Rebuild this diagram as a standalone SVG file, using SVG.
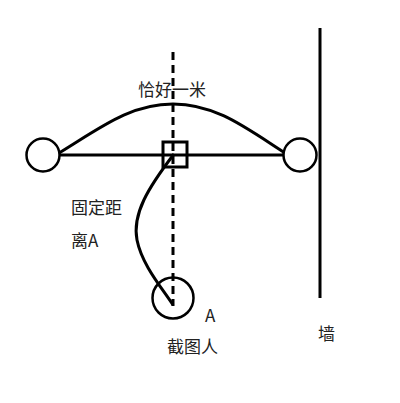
<svg xmlns="http://www.w3.org/2000/svg" width="400" height="403" viewBox="0 0 400 403">
<style>
.ln{fill:none;stroke:#000;stroke-width:3}
.c{fill:#fff;stroke:#000;stroke-width:2.5}
.t{font-family:"Noto Sans CJK SC","Microsoft YaHei",sans-serif;font-size:17px;fill:#222}
</style>
<rect width="400" height="403" fill="#fff"/>
<g id="connectors">
<line class="ln" x1="173" y1="52" x2="173" y2="306" stroke-dasharray="8,5"/>
<line class="ln" x1="58" y1="155" x2="285" y2="155"/>
<path class="ln" d="M59,153 C100,128 130,104 173,104 C216,104 246,128 285,153"/>
<path class="ln" d="M174,154 C148,188 132,214 137,240 C142,265 162,288 173,305"/>
</g>
<g id="wall"><line class="ln" x1="320" y1="28" x2="320" y2="298"/><text class="t" x="318" y="340">墙</text></g>
<g id="left-circle"><circle class="c" cx="43" cy="155" r="16.5"/></g>
<g id="right-circle"><circle class="c" cx="300" cy="155" r="16.5"/></g>
<g id="square"><rect x="163" y="142" width="24" height="25" fill="none" stroke="#000" stroke-width="3"/></g>
<g id="person"><circle cx="173" cy="298" r="20.5" fill="none" stroke="#000" stroke-width="2.5"/>
<text class="t" x="205" y="322" font-family="Liberation Sans,Arial,sans-serif">A</text>
<text class="t" x="167" y="353">截图人</text></g>
<g id="labels">
<text class="t" x="138" y="96">恰好一米</text>
<text class="t" x="71" y="214">固定距</text>
<text class="t" x="71" y="247">离A</text>
</g>
</svg>
